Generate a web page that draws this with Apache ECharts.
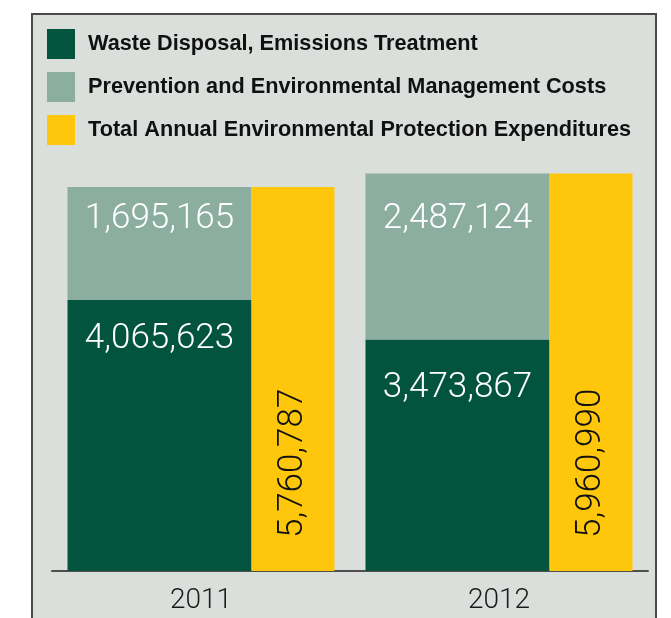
<!DOCTYPE html>
<html>
<head>
<meta charset="utf-8">
<script src="https://cdn.jsdelivr.net/npm/echarts@6/dist/echarts.min.js"></script>
<style>
  html, body { margin: 0; padding: 0; background: #ffffff; }
  #chart { width: 671px; height: 618px; }
</style>
</head>
<body>
<div id="chart"></div>
<script>
// Environmental protection expenditures by year
const years = ['2011', '2012'];
const wasteDisposal = [4065623, 3473867];
const prevention = [1695165, 2487124];
const totalExpenditures = [5760787, 5960990];
const seriesNames = [
  'Waste Disposal, Emissions Treatment',
  'Prevention and Environmental Management Costs',
  'Total Annual Environmental Protection Expenditures'
];

const colors = { dark: '#02543e', sage: '#8caea0', gold: '#fec70c' };
const fmt = v => v.toLocaleString('en-US');
const valueFont = { fontFamily: 'Roboto', fontWeight: 300, fontSize: 35 };

// vertical offset of each white value label from the top of its segment
const darkLabelTop = [39, 49];
const sageLabelTop = [32, 46];

function withLabelOffsets(values, tops) {
  return values.map((v, i) => ({
    value: v,
    label: { position: ['50%', tops[i]] }
  }));
}

const chart = echarts.init(document.getElementById('chart'), null, { renderer: 'canvas' });

chart.setOption({
  animation: false,
  backgroundColor: '#ffffff',
  graphic: [{
    type: 'rect',
    z: -10,
    silent: true,
    shape: { x: 32, y: 14, width: 624, height: 640 },
    style: { fill: '#dadfdc', stroke: '#4a4a4a', lineWidth: 2 }
  }],
  legend: {
    orient: 'vertical',
    left: 42,
    top: 24,
    itemWidth: 28,
    itemHeight: 30,
    itemGap: 13,
    icon: 'rect',
    selectedMode: false,
    textStyle: {
      fontFamily: 'Liberation Sans',
      fontWeight: 'bold',
      fontSize: 21.7,
      color: '#111111',
      padding: [4, 0, 0, 8]
    },
    data: seriesNames
  },
  grid: { left: 52, right: 23, top: 171, bottom: 47 },
  xAxis: {
    type: 'category',
    data: years,
    axisLine: { lineStyle: { color: '#4f4f4f', width: 2 } },
    axisTick: { show: false },
    axisLabel: {
      margin: 16,
      color: '#1a1a1a',
      fontFamily: 'Roboto',
      fontWeight: 300,
      fontSize: 28
    }
  },
  yAxis: {
    type: 'value',
    min: 0,
    max: 6000000,
    show: false,
    splitLine: { show: false }
  },
  series: [
    {
      name: seriesNames[0],
      type: 'bar',
      stack: 'parts',
      barWidth: 184,
      barGap: '0%',
      itemStyle: { color: colors.dark },
      label: {
        show: true,
        color: '#ffffff',
        align: 'center',
        verticalAlign: 'middle',
        formatter: p => fmt(p.value),
        ...valueFont
      },
      emphasis: { disabled: true },
      data: withLabelOffsets(wasteDisposal, darkLabelTop)
    },
    {
      name: seriesNames[1],
      type: 'bar',
      stack: 'parts',
      barWidth: 184,
      barGap: '0%',
      itemStyle: { color: colors.sage },
      label: {
        show: true,
        color: '#ffffff',
        align: 'center',
        verticalAlign: 'middle',
        formatter: p => fmt(p.value),
        ...valueFont
      },
      emphasis: { disabled: true },
      data: withLabelOffsets(prevention, sageLabelTop)
    },
    {
      name: seriesNames[2],
      type: 'bar',
      barWidth: 83,
      barGap: '0%',
      itemStyle: { color: colors.gold },
      label: {
        show: true,
        position: 'insideBottom',
        distance: 33,
        rotate: 90,
        align: 'left',
        verticalAlign: 'middle',
        color: '#111111',
        formatter: p => fmt(p.value),
        ...valueFont
      },
      emphasis: { disabled: true },
      data: totalExpenditures
    }
  ]
});
</script>
</body>
</html>
